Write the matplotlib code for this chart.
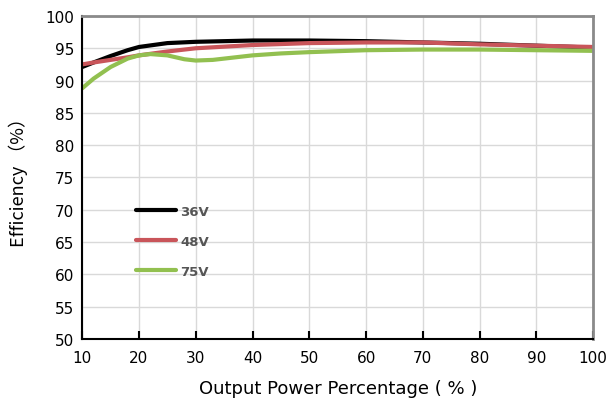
import matplotlib.pyplot as plt

# Дані
x_36 = [10, 12, 15, 18, 20, 25, 30, 40, 50, 60, 70, 80, 90, 100]
y_36 = [92.1, 92.8, 93.8, 94.7, 95.2, 95.8, 96.0, 96.2, 96.2, 96.1, 95.9, 95.7, 95.4, 95.1]

x_48 = [10, 12, 15, 18, 20, 25, 30, 40, 50, 60, 70, 80, 90, 100]
y_48 = [92.5, 92.8, 93.2, 93.6, 93.9, 94.5, 95.0, 95.5, 95.8, 95.9, 95.9, 95.6, 95.4, 95.2]

x_75 = [10, 12, 15, 18, 20, 22, 25, 28, 30, 33, 36, 40, 45, 50, 60, 70, 80, 90, 100]
y_75 = [88.8, 90.3, 92.1, 93.4, 93.9, 94.1, 93.9, 93.3, 93.1, 93.2, 93.5, 93.9, 94.2, 94.4, 94.7, 94.8, 94.8, 94.7, 94.6]

x_ticks = [10, 20, 30, 40, 50, 60, 70, 80, 90, 100]
y_ticks = [50, 55, 60, 65, 70, 75, 80, 85, 90, 95, 100]

plt.rcParams['font.family'] = ['DejaVu Sans']

fig = plt.figure(figsize=(6.09, 4.14), dpi=100)
ax = fig.add_axes([0.135, 0.179, 0.839, 0.780])

ax.plot(x_36, y_36, color='black', lw=3, label='36V', solid_capstyle='round')
ax.plot(x_48, y_48, color='#c9555a', lw=3, label='48V', solid_capstyle='round')
ax.plot(x_75, y_75, color='#92c050', lw=3, label='75V', solid_capstyle='round')

ax.set_xlim(10, 100)
ax.set_ylim(50, 100)
ax.set_xticks(x_ticks)
ax.set_yticks(y_ticks)
ax.grid(True, color='#d9d9d9', lw=1)
ax.set_axisbelow(True)

ax.tick_params(axis='x', direction='in', length=6, width=1.5, labelsize=11, pad=8)
ax.tick_params(axis='y', length=0, labelsize=11, pad=6)

ax.spines['left'].set_color('black')
ax.spines['left'].set_linewidth(1.5)
ax.spines['bottom'].set_color('black')
ax.spines['bottom'].set_linewidth(1.5)
ax.spines['top'].set_color('#8a8a8a')
ax.spines['top'].set_linewidth(2)
ax.spines['right'].set_color('#8a8a8a')
ax.spines['right'].set_linewidth(2)

ax.set_xlabel('Output Power Percentage ( % )', fontsize=13, labelpad=10)
ax.set_ylabel('Efficiency （%）', fontsize=13, labelpad=12,
              family=['Noto Sans CJK SC', 'DejaVu Sans'])

leg = ax.legend(loc='upper left', bbox_to_anchor=(0.083, 0.452), frameon=False,
                handlelength=3.0, handletextpad=0.3, labelspacing=1.3,
                prop={'weight': 'bold', 'size': 9.5})
for t in leg.get_texts():
    t.set_color('#555555')

plt.savefig('out.png', dpi=100)
